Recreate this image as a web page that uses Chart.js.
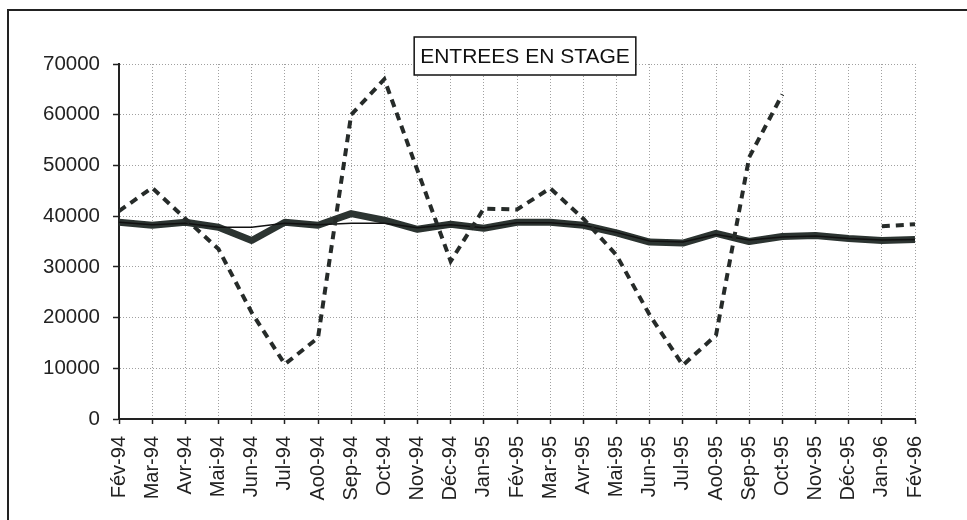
<!DOCTYPE html>
<html>
<head>
<meta charset="utf-8">
<title>ENTREES EN STAGE</title>
<script src="https://cdn.jsdelivr.net/npm/chart.js@4"></script>
<style>
  html, body { margin: 0; padding: 0; background: #fff; }
  #wrap { position: relative; width: 967px; height: 520px; }
</style>
</head>
<body>
<div id="wrap"><canvas id="chart" width="967" height="520"></canvas></div>
<script>
// Data
const months = ['Fév-94', 'Mar-94', 'Avr-94', 'Mai-94', 'Jun-94', 'Jul-94', 'Ao0-94', 'Sep-94', 'Oct-94',
    'Nov-94', 'Déc-94', 'Jan-95', 'Fév-95', 'Mar-95', 'Avr-95', 'Mai-95', 'Jun-95', 'Jul-95', 'Ao0-95',
    'Sep-95', 'Oct-95', 'Nov-95', 'Déc-95', 'Jan-96', 'Fév-96'];

// monthly entries (dashed)
const entrees = [41000, 45600, 39500, 33500, 21000, 10800, 16000, 60000, 67000, 49000, 31100, 41500, 41300,
    45500, 39500, 32300, 20500, 10600, 16500, 51600, 64000, null, null, 38000, 38400];

// smoothed series (thick)
const lissee = [38800, 38200, 38800, 37800, 35200, 38800, 38200, 40500, 39200, 37400, 38400, 37600, 38800,
    38800, 38200, 36700, 34900, 34700, 36600, 35000, 36000, 36200, 35600, 35200, 35400];

// 12-month average (thin)
const moyenne = [38800, 38300, 38600, 37800, 37800, 38600, 38300, 38600, 38600, 37700, 38300, 37700, 38700,
    38700, 38200, 36800, 35100, 34900, 36400, 35300, 35900, 36100, 35600, 35300, 35400];

const yTicks = [0, 10000, 20000, 30000, 40000, 50000, 60000, 70000];
const titleText = 'ENTREES EN STAGE';

const FONT = "'Liberation Sans', Arial, sans-serif";

// white page, outer frame and boxed title
const framePlugin = {
    id: 'frame',
    beforeDraw(chart) {
        const ctx = chart.ctx;
        ctx.save();
        ctx.fillStyle = '#fff';
        ctx.fillRect(0, 0, chart.width, chart.height);
        ctx.strokeStyle = '#222';
        ctx.lineWidth = 2;
        ctx.beginPath();
        ctx.moveTo(8, chart.height);
        ctx.lineTo(8, 10);
        ctx.lineTo(chart.width, 10);
        ctx.stroke();
        ctx.restore();
    },
    afterDraw(chart) {
        const ctx = chart.ctx;
        ctx.save();
        ctx.font = '21px ' + FONT;
        const w = ctx.measureText(titleText).width + 12;
        const cx = 525, cy = 56;
        ctx.fillStyle = '#fff';
        ctx.fillRect(cx - w / 2, cy - 19, w, 38);
        ctx.strokeStyle = '#111';
        ctx.lineWidth = 1.5;
        ctx.strokeRect(cx - w / 2, cy - 19, w, 38);
        ctx.fillStyle = '#111';
        ctx.textAlign = 'center';
        ctx.textBaseline = 'middle';
        ctx.fillText(titleText, cx, cy + 1);
        ctx.restore();
    }
};

const ctx = document.getElementById('chart').getContext('2d');
new Chart(ctx, {
    type: 'line',
    data: {
        labels: months,
        datasets: [
            {
                label: 'Entrées',
                data: entrees,
                borderColor: '#262b29',
                borderWidth: 4,
                borderDash: [8, 6],
                pointRadius: 0,
                spanGaps: false,
                order: 0
            },
            {
                label: 'Moyenne',
                data: moyenne,
                borderColor: '#111',
                borderWidth: 1.5,
                pointRadius: 0,
                order: 1
            },
            {
                label: 'Tendance',
                data: lissee,
                borderColor: '#2c3431',
                borderWidth: 7,
                pointRadius: 0,
                borderJoinStyle: 'round',
                order: 2
            }
        ]
    },
    options: {
        responsive: false,
        animation: false,
        layout: { padding: { left: 0, right: 52, top: 64, bottom: 0 } },
        plugins: {
            legend: { display: false },
            title: { display: false },
            tooltip: { enabled: false }
        },
        scales: {
            x: {
                offset: false,
                grid: {
                    color: '#a0a0a0',
                    lineWidth: 1,
                    tickColor: '#222',
                    tickLength: 5,
                    tickWidth: 1.5,
                    tickBorderDash: []
                },
                border: { display: true, color: '#222', width: 2, dash: [1, 2] },
                ticks: {
                    minRotation: 90,
                    maxRotation: 90,
                    autoSkip: false,
                    padding: 12,
                    color: '#222',
                    font: { family: FONT, size: 20 }
                },
                afterFit(scale) { scale.height = 101; }
            },
            y: {
                min: 0,
                max: 70000,
                afterBuildTicks(scale) {
                    scale.ticks = yTicks.map(v => ({ value: v }));
                },
                grid: {
                    color: '#a0a0a0',
                    lineWidth: 1,
                    tickColor: '#222',
                    tickLength: 6,
                    tickWidth: 1.5,
                    tickBorderDash: []
                },
                border: { display: true, color: '#222', width: 2, dash: [1, 2] },
                ticks: {
                    padding: 13,
                    color: '#222',
                    font: { family: FONT, size: 20.5 },
                    callback: (v) => String(v)
                },
                afterFit(scale) { scale.width = 119; }
            }
        }
    },
    plugins: [framePlugin]
});
</script>
</body>
</html>
